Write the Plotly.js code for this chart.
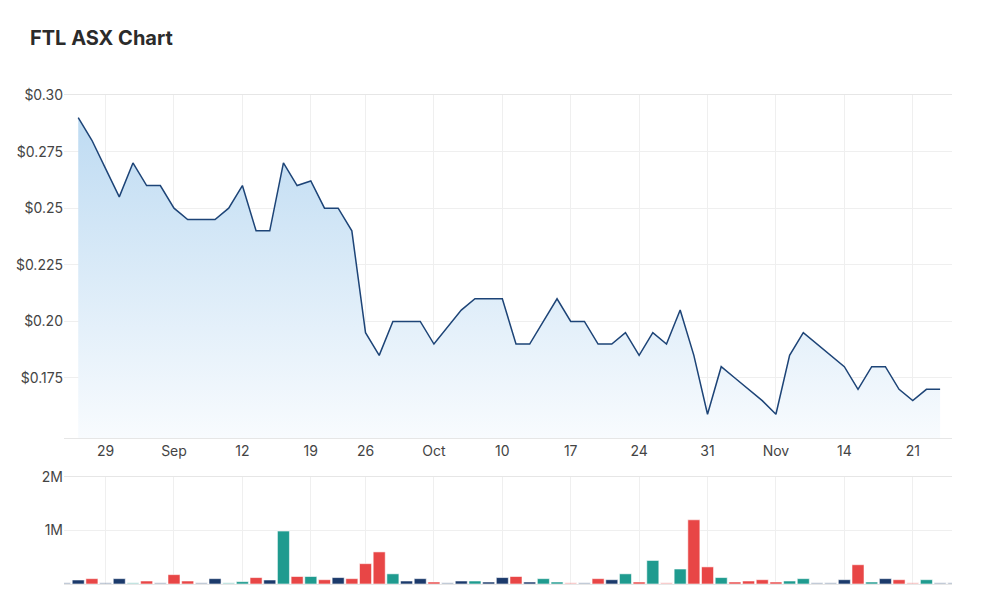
<!DOCTYPE html>
<html>
<head>
<meta charset="utf-8">
<script src="https://cdn.plot.ly/plotly-3.0.1.min.js"></script>
<style>
  html, body { margin: 0; padding: 0; background: #ffffff; }
  #chart { width: 1000px; height: 610px; }
</style>
</head>
<body>
<div id="chart"></div>
<script>
// Trading days (ASX, 2022) shown on the axis
const tradingDays = [
  '2022-08-24','2022-08-25','2022-08-26','2022-08-29','2022-08-30','2022-08-31',
  '2022-09-01','2022-09-02','2022-09-05','2022-09-06','2022-09-07','2022-09-08','2022-09-09',
  '2022-09-12','2022-09-13','2022-09-14','2022-09-15','2022-09-16','2022-09-19','2022-09-20',
  '2022-09-21','2022-09-23','2022-09-26','2022-09-27','2022-09-28','2022-09-29','2022-09-30',
  '2022-10-03','2022-10-04','2022-10-05','2022-10-06','2022-10-07','2022-10-10','2022-10-11',
  '2022-10-12','2022-10-13','2022-10-14','2022-10-17','2022-10-18','2022-10-19','2022-10-20',
  '2022-10-21','2022-10-24','2022-10-25','2022-10-26','2022-10-27','2022-10-28','2022-10-31',
  '2022-11-01','2022-11-02','2022-11-03','2022-11-04','2022-11-07','2022-11-08','2022-11-09',
  '2022-11-10','2022-11-11','2022-11-14','2022-11-15','2022-11-16','2022-11-17','2022-11-18',
  '2022-11-21','2022-11-22','2022-11-23','2022-11-24'
];

// Closing price, 25 Aug – 23 Nov 2022
const priceDates = tradingDays.slice(1, 65);
const closePrice = [
  0.29, 0.28, 0.2675, 0.255, 0.27, 0.26, 0.26, 0.25, 0.245, 0.245,
  0.245, 0.25, 0.26, 0.24, 0.24, 0.27, 0.26, 0.262, 0.25, 0.25,
  0.24, 0.195, 0.185, 0.20, 0.20, 0.20, 0.19, 0.1975, 0.205, 0.21,
  0.21, 0.21, 0.19, 0.19, 0.20, 0.21, 0.20, 0.20, 0.19, 0.19,
  0.195, 0.185, 0.195, 0.19, 0.205, 0.185, 0.159, 0.18, 0.175, 0.17,
  0.165, 0.159, 0.185, 0.195, 0.19, 0.185, 0.18, 0.17, 0.18, 0.18,
  0.17, 0.165, 0.17, 0.17
];

// Daily volume (shares), 24 Aug – 24 Nov 2022
const volume = [
  25000, 75000, 100000, 25000, 100000, 25000, 56000, 25000, 175000, 56000,
  25000, 100000, 25000, 44000, 120000, 75000, 990000, 140000, 140000, 80000,
  120000, 100000, 380000, 600000, 190000, 56000, 100000, 37000, 25000, 56000,
  56000, 37000, 120000, 140000, 37000, 100000, 37000, 25000, 25000, 100000,
  80000, 190000, 37000, 440000, 25000, 280000, 1200000, 320000, 120000, 37000,
  56000, 80000, 37000, 56000, 100000, 25000, 25000, 80000, 360000, 37000,
  100000, 80000, 25000, 80000, 25000, 25000
];
// Bar category: u = up, d = down, f = flat
const volumeMove = [
  'f','f','d','f','f','u','d','f','d','d',
  'f','f','u','u','d','f','u','d','u','d',
  'f','d','d','d','u','f','f','d','f','f',
  'u','f','f','d','f','u','u','d','f','d',
  'f','u','d','u','d','u','d','d','u','d',
  'd','d','d','u','u','f','f','f','d','u',
  'f','d','d','u','f','f'
];

const tickDates = ['2022-08-29','2022-09-05','2022-09-12','2022-09-19','2022-09-26','2022-10-03',
  '2022-10-10','2022-10-17','2022-10-24','2022-10-31','2022-11-07','2022-11-14','2022-11-21'];
const tickLabels = ['29','Sep','12','19','26','Oct','10','17','24','31','Nov','14','21'];

const priceTicks = [0.175, 0.20, 0.225, 0.25, 0.275, 0.30];
const priceTickLabels = ['$0.175','$0.20','$0.225','$0.25','$0.275','$0.30'];
const volumeTicks = [1000000, 2000000];
const volumeTickLabels = ['1M','2M'];

const moveColors = { u: '#1f9b8f', d: '#e84646', f: '#1b3a6b' };
const barColors = volumeMove.map(m => moveColors[m]);
const barOpacity = volume.map(v => v < 30000 ? 0.4 : 1);

const FONT = 'Inter, Roboto, "Noto Sans", sans-serif';
const gridC = '#efefef';
const lineC = '#e6e6e6';

const priceTrace = {
  type: 'scatter',
  mode: 'lines',
  x: priceDates,
  y: closePrice,
  xaxis: 'x',
  yaxis: 'y',
  line: { color: '#1d4477', width: 1.5 },
  fill: 'tozeroy',
  fillgradient: {
    type: 'vertical',
    start: 0.1485,
    stop: 0.29,
    colorscale: [[0, 'rgb(248,251,254)'], [1, 'rgb(190,219,242)']]
  },
  hoverinfo: 'skip'
};

const volumeTrace = {
  type: 'bar',
  x: tradingDays,
  y: volume,
  xaxis: 'x2',
  yaxis: 'y2',
  marker: {
    color: barColors,
    opacity: barOpacity,
    line: { color: 'rgba(255,255,255,0.7)', width: 0.8 }
  },
  hoverinfo: 'skip'
};

const xRange = [-0.04, 64.87];

const commonX = {
  type: 'category',
  categoryorder: 'array',
  categoryarray: tradingDays,
  range: xRange,
  tickmode: 'array',
  tickvals: tickDates,
  ticktext: tickLabels,
  showgrid: true,
  gridcolor: gridC,
  gridwidth: 1,
  zeroline: false,
  showline: true,
  linecolor: lineC,
  linewidth: 1,
  mirror: true,
  ticks: '',
  tickfont: { family: FONT, size: 14, color: '#444' },
  fixedrange: true
};

const layout = {
  width: 1000,
  height: 610,
  margin: { l: 64, r: 48, t: 95, b: 26 },
  paper_bgcolor: '#ffffff',
  plot_bgcolor: '#ffffff',
  showlegend: false,
  bargap: 0.12,
  title: {
    text: '<b>FTL ASX Chart</b>',
    x: 30 / 1000,
    xanchor: 'left',
    xref: 'container',
    y: 1 - 38 / 610,
    yanchor: 'middle',
    yref: 'container',
    font: { family: FONT, size: 20, color: '#2b2b2b' }
  },
  xaxis: Object.assign({}, commonX, {
    anchor: 'y',
    showticklabels: true
  }),
  xaxis2: Object.assign({}, commonX, {
    anchor: 'y2',
    showticklabels: false
  }),
  yaxis: {
    domain: [0.2986, 1],
    range: [0.1485, 0.30],
    tickmode: 'array',
    tickvals: priceTicks,
    ticktext: priceTickLabels,
    showgrid: true,
    gridcolor: gridC,
    zeroline: false,
    showline: false,
    ticks: '',
    tickfont: { family: FONT, size: 14, color: '#444' },
    fixedrange: true
  },
  yaxis2: {
    domain: [0, 0.2188],
    range: [0, 2000000],
    tickmode: 'array',
    tickvals: volumeTicks,
    ticktext: volumeTickLabels,
    showgrid: true,
    gridcolor: gridC,
    zeroline: false,
    showline: false,
    ticks: '',
    tickfont: { family: FONT, size: 14, color: '#444' },
    fixedrange: true
  }
};

Plotly.newPlot('chart', [priceTrace, volumeTrace], layout, { displayModeBar: false, staticPlot: true });
</script>
</body>
</html>
